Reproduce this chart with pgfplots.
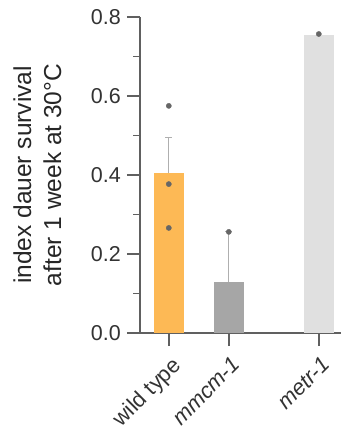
\documentclass[border=0pt]{standalone}
\usepackage{fontspec}
\setmainfont{Liberation Sans}
\usepackage{pgfplots}
\pgfplotsset{compat=1.18}
\definecolor{wtorange}{HTML}{FDB955}
\definecolor{mgray}{HTML}{A6A6A6}
\definecolor{lgray}{HTML}{E0E0E0}
\definecolor{axgray}{HTML}{606060}
\definecolor{dotgray}{HTML}{666666}
\definecolor{errgray}{HTML}{AFAFAF}
\begin{document}
\begin{tikzpicture}
\begin{axis}[
  at={(0,0)}, anchor=south west,
  scale only axis,
  width=201pt, height=316pt,
  xmin=-0.48, xmax=2.87,
  ymin=0, ymax=0.8,
  axis lines*=left,
  axis line style={axgray, line width=1.4pt},
  every tick/.style={axgray, line width=1.4pt},
  tick align=outside,
  major tick length=13pt,
  minor tick length=7pt,
  ytick={0,0.2,0.4,0.6,0.8},
  minor y tick num=1,
  yticklabel style={/pgf/number format/fixed, /pgf/number format/fixed zerofill, /pgf/number format/precision=1, font=\fontsize{21.5}{25}\selectfont, text=black!80, inner sep=2pt, xshift=-4pt},
  /pgf/number format/assume math mode=true,
  xtick={0,1,2.5},
  xticklabels={wild type, \textit{mmcm-1}, \textit{metr-1}},
  xticklabel style={rotate=45, anchor=north east, font=\fontsize{22}{24}\selectfont, text=black!80, inner sep=0pt, yshift=-8pt, xshift=-5pt},
  ylabel={index dauer survival\\after 1 week at 30°C},
  every axis y label/.style={at={(axis description cs:-0.38,0.5)}, rotate=90, anchor=south, align=center, font=\fontsize{24.5}{30}\selectfont, text=black!85, inner sep=2pt},
  clip=false,
]
\addplot[ybar, bar width=0.5, bar shift=0pt, fill=wtorange, draw=none,
  error bars/.cd, y dir=plus, y explicit, error mark options={errgray, line width=1pt, mark size=3.5pt, rotate=90},
  error bar style={errgray, line width=1pt}]
  coordinates {(0,0.406) +- (0,0.09)};
\addplot[ybar, bar width=0.5, bar shift=0pt, fill=mgray, draw=none,
  error bars/.cd, y dir=plus, y explicit, error mark options={errgray, line width=1pt, mark size=3.5pt, rotate=90},
  error bar style={errgray, line width=1pt}]
  coordinates {(1,0.128) +- (0,0.128)};
\addplot[ybar, bar width=0.5, bar shift=0pt, fill=lgray, draw=none]
  coordinates {(2.5,0.755)};
\addplot[only marks, mark=*, mark size=2.6pt, color=dotgray]
  coordinates {(0,0.575) (0,0.377) (0,0.266) (1,0.256) (2.5,0.757)};
\end{axis}
\pgfresetboundingbox
\path[use as bounding box] (-140pt,-102pt) rectangle (201pt,333pt);
\end{tikzpicture}
\end{document}
